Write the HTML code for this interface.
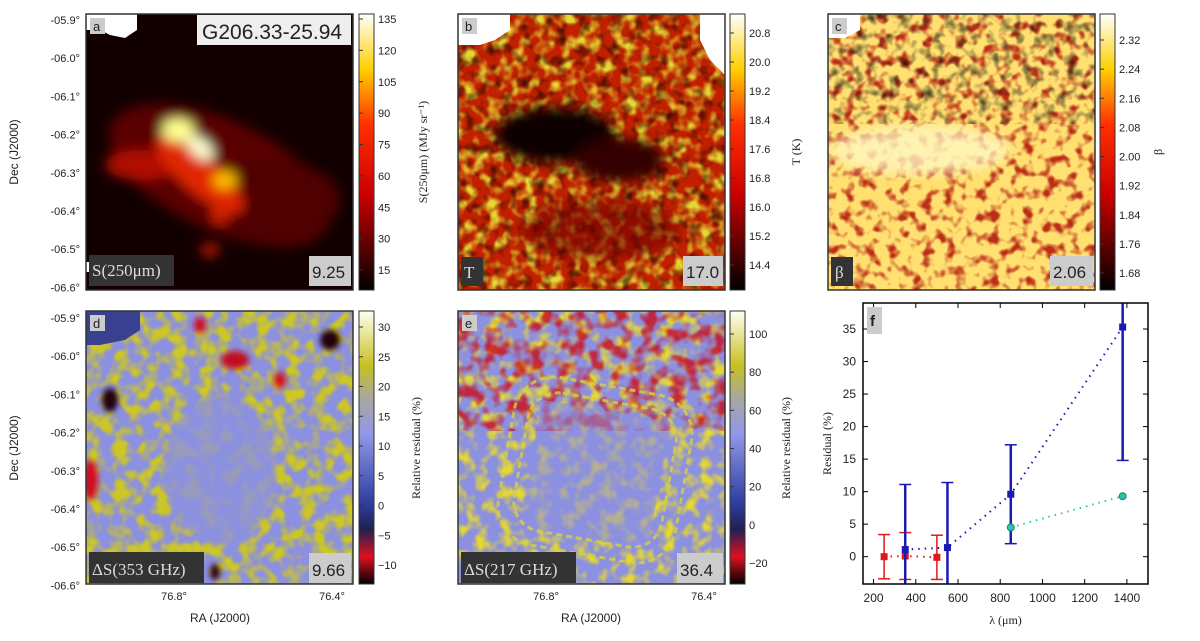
<!DOCTYPE html>
<html><head><meta charset="utf-8"><style>
body{margin:0;background:#fff;width:1200px;height:636px;overflow:hidden;font-family:"Liberation Sans",sans-serif}
svg text{font-family:"Liberation Sans",sans-serif;fill:#222}
.serif{font-family:"Liberation Serif",serif !important}
</style></head><body>
<svg id="fig" width="1200" height="636" viewBox="0 0 1200 636" xmlns="http://www.w3.org/2000/svg">
<defs>
<filter id="bl4"><feGaussianBlur stdDeviation="6"/></filter>
<filter id="bl2"><feGaussianBlur stdDeviation="3"/></filter>
<filter id="nz" x="0" y="0" width="1" height="1" color-interpolation-filters="sRGB"><feTurbulence type="fractalNoise" baseFrequency="0.09" numOctaves="2" seed="3"/><feColorMatrix type="matrix" values="0 0 0 0 0  0 0 0 0 0  0 0 0 0 0  0 0 0 -2.6 1.35" result="m"/><feFlood flood-color="#000"/><feComposite operator="in" in2="m"/></filter>
<filter id="nzy" x="0" y="0" width="1" height="1" color-interpolation-filters="sRGB"><feTurbulence type="fractalNoise" baseFrequency="0.08" numOctaves="2" seed="7"/><feColorMatrix type="matrix" values="0 0 0 0 0  0 0 0 0 0  0 0 0 0 0  0 0 0 3 -1.3" result="m"/><feFlood flood-color="#e6d833"/><feComposite operator="in" in2="m"/></filter>
<filter id="nzy2" x="0" y="0" width="1" height="1" color-interpolation-filters="sRGB"><feTurbulence type="fractalNoise" baseFrequency="0.07" numOctaves="2" seed="5"/><feColorMatrix type="matrix" values="0 0 0 0 0  0 0 0 0 0  0 0 0 0 0  0 0 0 3.5 -1.4" result="m"/><feFlood flood-color="#ccc626"/><feComposite operator="in" in2="m"/></filter>
<filter id="nzr" x="0" y="0" width="1" height="1" color-interpolation-filters="sRGB"><feTurbulence type="fractalNoise" baseFrequency="0.07" numOctaves="2" seed="11"/><feColorMatrix type="matrix" values="0 0 0 0 0  0 0 0 0 0  0 0 0 0 0  0 0 0 -4 2.2" result="m"/><feFlood flood-color="#cc0d1a"/><feComposite operator="in" in2="m"/></filter>
<filter id="nzr2" x="0" y="0" width="1" height="1" color-interpolation-filters="sRGB"><feTurbulence type="fractalNoise" baseFrequency="0.09" numOctaves="2" seed="13"/><feColorMatrix type="matrix" values="0 0 0 0 0  0 0 0 0 0  0 0 0 0 0  0 0 0 -4 2.05" result="m"/><feFlood flood-color="#b01008"/><feComposite operator="in" in2="m"/></filter>
<linearGradient id="hot" x1="0" y1="1" x2="0" y2="0"><stop offset="0" stop-color="#000"/><stop offset="0.35" stop-color="#c00"/><stop offset="0.6" stop-color="#ff3000"/><stop offset="0.8" stop-color="#ffd000"/><stop offset="1" stop-color="#fff"/></linearGradient>
<linearGradient id="res" x1="0" y1="1" x2="0" y2="0"><stop offset="0" stop-color="#000"/><stop offset="0.1" stop-color="#e01020"/><stop offset="0.2" stop-color="#202050"/><stop offset="0.3" stop-color="#3040a0"/><stop offset="0.55" stop-color="#9098e8"/><stop offset="0.68" stop-color="#a8a8a0"/><stop offset="0.8" stop-color="#c8c020"/><stop offset="1" stop-color="#fffff0"/></linearGradient>
<clipPath id="ca"><rect x="86" y="14" width="267" height="276"/></clipPath>
<clipPath id="cb"><rect x="458" y="14" width="267" height="276"/></clipPath>
<clipPath id="cc"><rect x="828" y="14" width="267" height="276"/></clipPath>
<clipPath id="cd"><rect x="86" y="311" width="267" height="273"/></clipPath>
<clipPath id="ce"><rect x="458" y="311" width="267" height="273"/></clipPath>
</defs>

<!-- panel a -->
<g clip-path="url(#ca)">
<rect x="86" y="14" width="267" height="276" fill="#120000"/>
<g filter="url(#bl4)">
<ellipse cx="220" cy="175" rx="120" ry="55" fill="#5a0400" transform="rotate(25 220 175)"/>
<ellipse cx="270" cy="200" rx="70" ry="40" fill="#500300"/>
<ellipse cx="140" cy="165" rx="35" ry="15" fill="#b01000"/>
<ellipse cx="200" cy="175" rx="55" ry="18" fill="#e02800" transform="rotate(40 200 175)"/>
<ellipse cx="178" cy="130" rx="16" ry="12" fill="#ffff90"/>
<ellipse cx="200" cy="148" rx="16" ry="9" fill="#ffffd0" transform="rotate(40 200 148)"/>
<ellipse cx="225" cy="180" rx="12" ry="9" fill="#ffc000"/>
<ellipse cx="220" cy="215" rx="9" ry="9" fill="#d02000"/>
<ellipse cx="210" cy="250" rx="9" ry="7" fill="#c01800"/>
</g>
<path d="M86,14 H137 V30 L125,38 L110,35 L100,30 L86,30 Z" fill="#fff"/>
<rect x="86" y="262" width="20" height="10" fill="#fff"/>
</g>
<rect x="86" y="14" width="267" height="276" fill="none" stroke="#333" stroke-width="1.5"/>
<rect x="90" y="18" width="15" height="16" fill="#ccc"/><text x="93" y="31" font-size="13">a</text>
<rect x="197" y="15" width="154" height="30" fill="#eee"/><text x="202" y="39" font-size="21">G206.33-25.94</text>
<rect x="89" y="255" width="85" height="31" fill="#333"/><text x="92" y="276" font-size="17" style="fill:#ddd" class="serif">S(250μm)</text>
<rect x="309" y="256" width="42" height="30" fill="#ccc"/><text x="312" y="278" font-size="17">9.25</text>

<!-- panel b -->
<g clip-path="url(#cb)">
<rect x="458" y="14" width="267" height="276" fill="#c02000"/>
<rect x="458" y="14" width="267" height="276" filter="url(#nzy)"/>
<rect x="458" y="14" width="267" height="276" filter="url(#nz)" opacity="0.6"/>
<g filter="url(#bl4)"><ellipse cx="555" cy="135" rx="60" ry="28" fill="#100000"/><ellipse cx="620" cy="160" rx="45" ry="22" fill="#300000"/><ellipse cx="600" cy="230" rx="80" ry="30" fill="#700800" opacity="0.6"/></g>
<path d="M458,14 H510 V30 L495,40 L480,45 L458,45 Z" fill="#fff"/>
<path d="M700,14 H725 V75 L710,60 L700,40 Z" fill="#fff"/>
</g>
<rect x="458" y="14" width="267" height="276" fill="none" stroke="#333" stroke-width="1.5"/>
<rect x="462" y="18" width="15" height="16" fill="#ccc"/><text x="465" y="31" font-size="13">b</text>
<rect x="461" y="257" width="22" height="29" fill="#333"/><text x="464" y="278" font-size="17" style="fill:#ddd" class="serif">T</text>
<rect x="683" y="256" width="40" height="30" fill="#ccc"/><text x="686" y="278" font-size="17">17.0</text>

<!-- panel c -->
<g clip-path="url(#cc)">
<rect x="828" y="14" width="267" height="276" fill="#ffe070"/>
<rect x="828" y="14" width="267" height="276" filter="url(#nzr2)" opacity="0.85"/>
<rect x="828" y="14" width="267" height="110" filter="url(#nz)" opacity="0.65"/>
<g filter="url(#bl4)"><ellipse cx="920" cy="150" rx="90" ry="25" fill="#fff8c0" opacity="0.8"/></g>
<path d="M828,14 H860 V30 L845,38 L828,38 Z" fill="#fff"/>
</g>
<rect x="828" y="14" width="267" height="276" fill="none" stroke="#333" stroke-width="1.5"/>
<rect x="832" y="18" width="15" height="16" fill="#ccc"/><text x="835" y="31" font-size="13">c</text>
<rect x="831" y="257" width="22" height="29" fill="#333"/><text x="835" y="278" font-size="17" style="fill:#ddd" class="serif">β</text>
<rect x="1050" y="256" width="43" height="30" fill="#ccc"/><text x="1053" y="278" font-size="17">2.06</text>

<!-- panel d -->
<g clip-path="url(#cd)">
<rect x="86" y="311" width="267" height="273" fill="#8c90e0"/>
<rect x="86" y="311" width="267" height="273" filter="url(#nzy2)"/>
<g filter="url(#bl2)">
<ellipse cx="220" cy="470" rx="55" ry="75" fill="#8c90e0" opacity="0.8"/>
<ellipse cx="200" cy="325" rx="6" ry="8" fill="#d01020"/><ellipse cx="235" cy="360" rx="14" ry="9" fill="#c01020"/><ellipse cx="330" cy="340" rx="10" ry="10" fill="#200010"/><ellipse cx="110" cy="400" rx="8" ry="12" fill="#200010"/><ellipse cx="90" cy="480" rx="8" ry="20" fill="#d01020"/><ellipse cx="280" cy="380" rx="6" ry="8" fill="#d01020"/><ellipse cx="215" cy="572" rx="5" ry="8" fill="#300010"/>
</g>
<path d="M86,311 H140 V330 L125,340 L100,345 L86,345 Z" fill="#3a4090"/>
</g>
<rect x="86" y="311" width="267" height="273" fill="none" stroke="#333" stroke-width="1.5"/>
<rect x="90" y="315" width="15" height="16" fill="#ccc"/><text x="93" y="328" font-size="13">d</text>
<rect x="89" y="552" width="115" height="31" fill="#333"/><text x="92" y="575" font-size="17" style="fill:#ddd" class="serif">ΔS(353 GHz)</text>
<rect x="309" y="553" width="42" height="30" fill="#ccc"/><text x="312" y="576" font-size="17">9.66</text>

<!-- panel e -->
<g clip-path="url(#ce)">
<rect x="458" y="311" width="267" height="273" fill="#8c90e0"/>
<rect x="458" y="311" width="267" height="273" filter="url(#nzy)"/>
<rect x="458" y="311" width="267" height="120" filter="url(#nzr)" opacity="0.8"/>
<rect x="530" y="410" width="130" height="130" fill="#8c90e0" opacity="0.55" transform="rotate(10 595 475)"/>
<g fill="none" stroke="#d8d040" stroke-width="3" stroke-dasharray="6 4" opacity="0.8">
<rect x="505" y="385" width="180" height="170" rx="40" transform="rotate(10 595 470)"/>
<rect x="520" y="400" width="150" height="140" rx="30" transform="rotate(10 595 470)"/>
</g>
</g>
<rect x="458" y="311" width="267" height="273" fill="none" stroke="#333" stroke-width="1.5"/>
<rect x="462" y="315" width="15" height="16" fill="#ccc"/><text x="465" y="328" font-size="13">e</text>
<rect x="461" y="552" width="115" height="31" fill="#333"/><text x="464" y="575" font-size="17" style="fill:#ddd" class="serif">ΔS(217 GHz)</text>
<rect x="677" y="553" width="46" height="30" fill="#ccc"/><text x="680" y="576" font-size="17">36.4</text>

<!-- colorbars -->
<rect x="359" y="14" width="15" height="276" fill="url(#hot)" stroke="#333"/>
<rect x="730" y="14" width="15" height="276" fill="url(#hot)" stroke="#333"/>
<rect x="1100" y="14" width="15" height="276" fill="url(#hot)" stroke="#333"/>
<rect x="359" y="311" width="15" height="273" fill="url(#res)" stroke="#333"/>
<rect x="730" y="311" width="15" height="273" fill="url(#res)" stroke="#333"/>
<text class="serif" font-size="12" transform="translate(427,152) rotate(-90)" text-anchor="middle">S(250μm) (MJy sr⁻¹)</text>
<text class="serif" font-size="12" transform="translate(800,152) rotate(-90)" text-anchor="middle">T (K)</text>
<text class="serif" font-size="12" transform="translate(1162,152) rotate(-90)" text-anchor="middle">β</text>
<text class="serif" font-size="12" transform="translate(420,448) rotate(-90)" text-anchor="middle">Relative residual (%)</text>
<text class="serif" font-size="12" transform="translate(790,448) rotate(-90)" text-anchor="middle">Relative residual (%)</text>
<text font-size="12" transform="translate(18,152) rotate(-90)" text-anchor="middle">Dec (J2000)</text>
<text font-size="12" transform="translate(18,448) rotate(-90)" text-anchor="middle">Dec (J2000)</text>
<text font-size="12" x="220" y="622" text-anchor="middle">RA (J2000)</text>
<text font-size="12" x="591" y="622" text-anchor="middle">RA (J2000)</text>
<g id="ticks"></g>

<!-- panel f -->
<g id="pf"></g>
</svg>
<script>
const NS="http://www.w3.org/2000/svg";
function mk(p,t,a,txt){const e=document.createElementNS(NS,t);for(const k in a)e.setAttribute(k,a[k]);if(txt!==undefined)e.textContent=txt;p.appendChild(e);return e;}
const tg=document.getElementById('ticks');
const decLabels=["-05.9°","-06.0°","-06.1°","-06.2°","-06.3°","-06.4°","-06.5°","-06.6°"];
decLabels.forEach((l,i)=>{const y1=20+i*38.2,y2=318+i*38.2;
const a=mk(tg,'text',{x:80,y:y1+4,'font-size':11,'text-anchor':'end'},l);

const b=mk(tg,'text',{x:80,y:y2+4,'font-size':11,'text-anchor':'end'},l);
});
[[174,"76.8°"],[332,"76.4°"]].forEach(([x,l])=>{mk(tg,'text',{x:x,y:600,'font-size':11,'text-anchor':'middle'},l);mk(tg,'text',{x:x+372,y:600,'font-size':11,'text-anchor':'middle'},l);});
function cbTicks(x,vals,y0,y1){vals.forEach((v,i)=>{const y=y0+(y1-y0)*i/(vals.length-1);mk(tg,'line',{x1:x-15,x2:x-11,y1:y,y2:y,stroke:'#333'});mk(tg,'text',{x:x+4,y:y+4,'font-size':11},v);});}
cbTicks(374,["135","120","105","90","75","60","45","30","15"],19,270);
cbTicks(745,["20.8","20.0","19.2","18.4","17.6","16.8","16.0","15.2","14.4"],33,265);
cbTicks(1115,["2.32","2.24","2.16","2.08","2.00","1.92","1.84","1.76","1.68"],40,273);
cbTicks(374,["30","25","20","15","10","5","0","−5","−10"],327,565);
cbTicks(745,["100","80","60","40","20","0","−20"],334,563);

// chart f data
const redX=[250,350,500], redY=[0,0.1,-0.1], redErr=[3.4,3.6,3.4];
const blueX=[350,550,850,1380], blueY=[1.1,1.4,9.6,35.3], blueErr=[10,10,7.6,20.5];
const cyanX=[850,1380], cyanY=[4.5,9.3];
const xTicks=[200,400,600,800,1000,1200,1400];
const yTicks=[0,5,10,15,20,25,30,35];
const L=863,R=1148,T=303,B=584,xmin=150,xmax=1500,ymin=-4.2,ymax=39;
const X=v=>L+(v-xmin)/(xmax-xmin)*(R-L), Y=v=>B-(v-ymin)/(ymax-ymin)*(B-T);
const g=document.getElementById('pf');
const cp=mk(g.parentNode.querySelector('defs'),'clipPath',{id:'cf'});mk(cp,'rect',{x:L,y:T,width:R-L,height:B-T});
const plot=mk(g,'g',{'clip-path':'url(#cf)'});
xTicks.forEach(v=>{mk(g,'line',{x1:X(v),x2:X(v),y1:B,y2:B-5,stroke:'#000'});mk(g,'line',{x1:X(v),x2:X(v),y1:T,y2:T+5,stroke:'#000'});const t=mk(g,'text',{x:X(v),y:B+18,'font-size':12,'text-anchor':'middle'},v);});
yTicks.forEach(v=>{mk(g,'line',{x1:L,x2:L+5,y1:Y(v),y2:Y(v),stroke:'#000'});mk(g,'line',{x1:R,x2:R-5,y1:Y(v),y2:Y(v),stroke:'#000'});const t=mk(g,'text',{x:L-7,y:Y(v)+4,'font-size':12,'text-anchor':'end'},v);});
function series(xs,ys,errs,col,w,name,mark){
 const pts=xs.map((x,i)=>X(x)+','+Y(ys[i])).join(' ');
 const pl=mk(plot,'polyline',{points:pts,fill:'none',stroke:col,'stroke-width':2,'stroke-dasharray':'1.5 5'});
 
 xs.forEach((x,i)=>{
  if(errs){const e=mk(plot,'g',{});
   mk(e,'line',{x1:X(x),x2:X(x),y1:Y(ys[i]-errs[i]),y2:Y(ys[i]+errs[i]),stroke:col,'stroke-width':w});
   [ys[i]-errs[i],ys[i]+errs[i]].forEach(v=>mk(e,'line',{x1:X(x)-6,x2:X(x)+6,y1:Y(v),y2:Y(v),stroke:col,'stroke-width':1.5}));}
  const m=mark==='c'?mk(plot,'circle',{cx:X(x),cy:Y(ys[i]),r:3.5,fill:col,stroke:'#186'}):mk(plot,'rect',{x:X(x)-3.5,y:Y(ys[i])-3.5,width:7,height:7,fill:col});
  
 });
}
series(redX,redY,redErr,'#e01818',1.5,'red-series','s');
series(blueX,blueY,blueErr,'#1a1ab0',2.5,'blue-series','s');
series(cyanX,cyanY,null,'#30c0b0',1,'cyan-series','c');
mk(g,'rect',{x:L,y:T,width:R-L,height:B-T,fill:'none',stroke:'#000','stroke-width':1.5});
mk(g,'rect',{x:L+4,y:T+4,width:15,height:27,fill:'#ccc'});
mk(g,'text',{x:L+7,y:T+23,'font-size':15,'font-weight':'bold'},'f');
const yl=mk(g,'text',{transform:`translate(${L-32},${(T+B)/2}) rotate(-90)`,'font-size':12,'text-anchor':'middle',class:'serif'},'Residual (%)');

const xl=mk(g,'text',{x:(L+R)/2,y:B+40,'font-size':12,'text-anchor':'middle',class:'serif'},'λ (μm)');

</script>
</body></html>
